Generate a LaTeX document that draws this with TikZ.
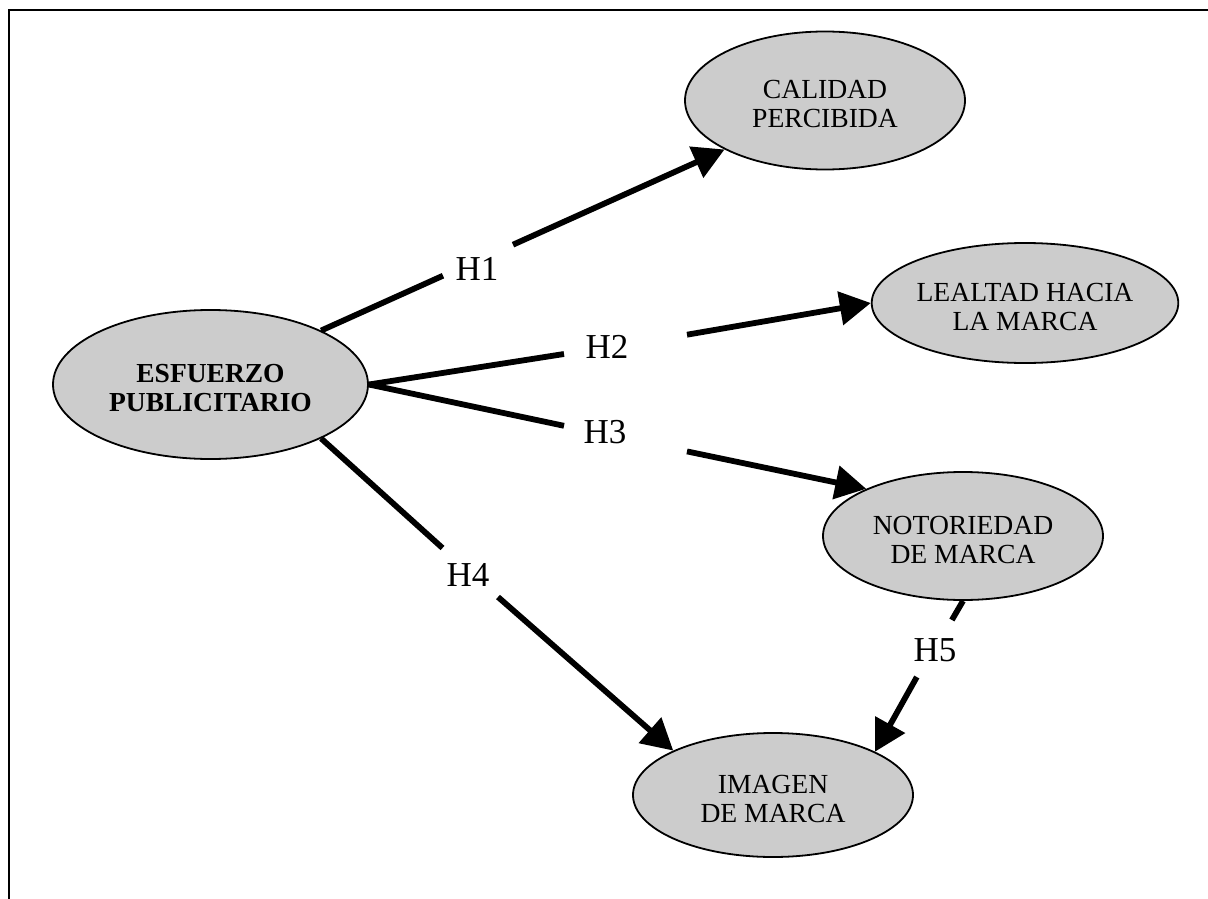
\documentclass[tikz,border=0pt]{standalone}
\usepackage{fontspec}
\setmainfont{Liberation Serif}
\usetikzlibrary{shapes.geometric,arrows.meta}
\definecolor{nodegray}{RGB}{204,204,204}
\newcommand{\ntop}{\rule{0pt}{26pt}}
\begin{document}
\begin{tikzpicture}[x=1pt,y=-1pt,
  ell/.style={ellipse,draw=black,line width=1.8pt,fill=nodegray,inner sep=0pt,align=center,font=\fontsize{27.6}{29}\selectfont},
  edge/.style={line width=5.8pt,draw=black},
  arr/.style={edge,-{Triangle[length=31pt,width=33pt]}},
  lab/.style={inner sep=0pt,font=\fontsize{35}{40}\selectfont}]
\useasboundingbox (0,0) rectangle (1208,899);
\draw[line width=1.8pt] (9,899) -- (9,10) -- (1208,10);
% nodes
\node[ell,minimum width=315pt,minimum height=149pt,font=\fontsize{27.5}{29}\selectfont\bfseries] (esf) at (210.5,384.5) {\ntop ESFUERZO\\PUBLICITARIO};
\node[ell,minimum width=280pt,minimum height=138pt] (cal) at (825,100.5) {\ntop CALIDAD\\PERCIBIDA};
\node[ell,minimum width=298pt,minimum height=120pt] (leal) at (1025,303) {\ntop LEALTAD HACIA\\LA MARCA};
\node[ell,minimum width=280pt,minimum height=128pt] (noto) at (963,536) {\ntop NOTORIEDAD\\DE MARCA};
\node[ell,minimum width=280pt,minimum height=124pt] (img) at (773,795) {\ntop IMAGEN\\DE MARCA};
% gap coordinates
\coordinate (g1a) at (443,275.7); \coordinate (g1b) at (513,244.7);
\coordinate (g2a) at (564,354);   \coordinate (g2b) at (687,334.7);
\coordinate (g3a) at (564,425.8); \coordinate (g3b) at (687,451.4);
\coordinate (g4a) at (442.5,548); \coordinate (g4b) at (498,597);
\coordinate (g5a) at (951.9,620); \coordinate (g5b) at (916.8,677);
% edges
\draw[edge] (esf.26.5) -- (g1a);  \draw[arr] (g1b) -- (cal.206.6);
\draw[edge] (esf.0) -- (g2a);     \draw[arr] (g2b) -- (leal.180);
\draw[edge] (esf.0) -- (g3a);     \draw[arr] (g3b) -- (noto.154.4);
\draw[edge] (esf.-26.9) -- (g4a); \draw[arr] (g4b) -- (img.156.8);
\draw[edge] (noto.270) -- (g5a);  \draw[arr] (g5b) -- (img.23.2);
% labels
\node[lab] (l1) at (477,269) {H1};
\node[lab] (l2) at (607,347) {H2};
\node[lab] (l3) at (605,432) {H3};
\node[lab] (l4) at (468,575) {H4};
\node[lab] (l5) at (935,650) {H5};
\end{tikzpicture}
\end{document}
